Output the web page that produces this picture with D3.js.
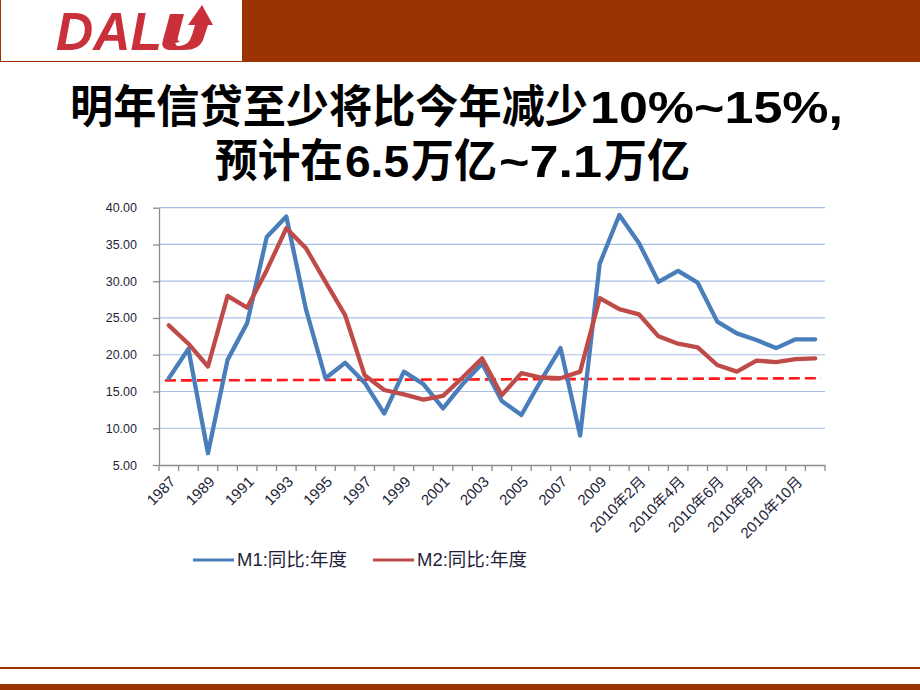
<!DOCTYPE html>
<html>
<head>
<meta charset="utf-8">
<script src="https://cdn.jsdelivr.net/npm/d3@7"></script>
<style>
  html, body { margin: 0; padding: 0; background: #ffffff; }
  svg { display: block; }
</style>
</head>
<body>
<svg id="chart" width="920" height="690"></svg>
<script>
// ---------------- data ----------------
const categories = [
  "1987","1988","1989","1990","1991","1992","1993","1994","1995","1996",
  "1997","1998","1999","2000","2001","2002","2003","2004","2005","2006",
  "2007","2008","2009",
  "2010年1月","2010年2月","2010年3月","2010年4月","2010年5月","2010年6月",
  "2010年7月","2010年8月","2010年9月","2010年10月","2010年11月"
];
const m1Values = [
  16.8, 20.8, 6.6, 19.3, 24.3, 36.0, 38.8, 26.2, 16.8, 18.9,
  16.2, 12.0, 17.7, 16.0, 12.7, 16.0, 18.8, 13.7, 11.8, 16.5,
  20.9, 9.0, 32.4,
  39.0, 35.2, 29.9, 31.4, 29.8, 24.5, 22.9, 22.0, 20.9, 22.1, 22.1
];
const m2Values = [
  24.0, 21.5, 18.4, 28.0, 26.4, 31.5, 37.2, 34.5, 29.9, 25.4,
  17.2, 15.2, 14.6, 13.9, 14.4, 16.9, 19.5, 14.5, 17.5, 16.9,
  16.8, 17.7, 27.7,
  26.2, 25.5, 22.5, 21.5, 21.0, 18.6, 17.7, 19.2, 19.0, 19.4, 19.5
];
const seriesNames = ["M1:同比:年度", "M2:同比:年度"];
const yTicks = [5, 10, 15, 20, 25, 30, 35, 40];
const refLineIndex = [-0.2, 33.3];
const refLineValues = [16.5, 16.8];
// title segments: text, font kind, left, right
const titleLine1 = [["明年信贷至少将比今年减少", "cjk", 70, 588], ["10%~15%,", "lat", 590, 843]];
const titleLine2 = [["预计在", "cjk", 215, 343], ["6.5", "lat", 345, 409], ["万亿", "cjk", 411, 497],
                    ["~7.1", "lat", 499, 602], ["万亿", "cjk", 604, 690]];

// ---------------- setup ----------------
const svg = d3.select("#chart");
const W = 920, H = 690;
const brown = "#9c3303";
const blue = "#4a7ebb", red = "#be4b48";
const fontLat = "'Liberation Sans', Arial, 'Noto Sans CJK SC', sans-serif";

// header band
svg.append("rect").attr("x", 0).attr("y", 0).attr("width", W).attr("height", 62).attr("fill", brown);
svg.append("rect").attr("x", 1).attr("y", 0).attr("width", 241).attr("height", 61).attr("fill", "#ffffff");

// logo
const logo = svg.append("g").attr("fill", "#c9303a");
logo.append("text")
  .attr("x", 56).attr("y", 50)
  .attr("font-family", fontLat).attr("font-weight", "bold").attr("font-style", "italic")
  .attr("font-size", 54)
  .attr("textLength", 106).attr("lengthAdjust", "spacingAndGlyphs")
  .text("DAL");
logo.append("path")
  .attr("d", "M170,14 L184,14 L178,37 Q176,43 184,42 Q190,41 192,35 L196,22 L209,22 L203,40 Q199,50 184,50 L170,50 Q160,49 163,40 Z");
logo.append("path")
  .attr("d", "M188,25 L202,5 L213,25 Z");
logo.append("path").attr("fill", "#ffffff")
  .attr("d", "M175,43 Q186,42 193,29 L190,40 Q186,46 177,46 Z");

// title
function drawTitleLine(parts, y) {
  parts.forEach(([s, kind, x0, x1]) => {
    svg.append("text")
      .attr("x", x0).attr("y", y)
      .attr("font-weight", "bold")
      .attr("fill", "#000")
      .attr("font-family", kind === "cjk" ? "'Noto Sans CJK SC', sans-serif" : fontLat)
      .attr("font-size", 45)
      .attr("textLength", x1 - x0).attr("lengthAdjust", "spacingAndGlyphs")
      .text(s);
  });
}
drawTitleLine(titleLine1, 123);
drawTitleLine(titleLine2, 177);

// ---------------- chart ----------------
const plot = { left: 159, right: 825, top: 207.7, bottom: 465 };
const x = d3.scaleBand().domain(categories).range([plot.left, plot.right]).paddingInner(0).paddingOuter(0);
const cx = d => x(d) + x.bandwidth() / 2;
const xi = d3.scaleLinear().domain([0, categories.length - 1])
  .range([cx(categories[0]), cx(categories[categories.length - 1])]);
const y = d3.scaleLinear().domain([5, 40]).range([plot.bottom, plot.top]);

// gridlines
svg.append("g").selectAll("line").data(yTicks.filter(v => v !== 5)).join("line")
  .attr("x1", plot.left).attr("x2", plot.right)
  .attr("y1", d => y(d)).attr("y2", d => y(d))
  .attr("stroke", "#a9c0e6").attr("stroke-width", 1.2);

// y axis
const yAxis = svg.append("g").attr("transform", `translate(${plot.left},0)`)
  .call(d3.axisLeft(y).tickValues(yTicks).tickSize(6).tickSizeOuter(0).tickPadding(16)
    .tickFormat(d3.format(".2f")));
yAxis.select(".domain").attr("stroke", "#8c8c8c").attr("stroke-width", 1.3);
yAxis.selectAll(".tick line").attr("stroke", "#8c8c8c").attr("stroke-width", 1.3);
yAxis.selectAll(".tick text").attr("font-family", fontLat).attr("font-size", 12.5).attr("fill", "#1f1f3a");

// x axis
const xAxis = svg.append("g").attr("transform", `translate(0,${plot.bottom})`)
  .call(d3.axisBottom(x).tickValues([]).tickSizeOuter(0));
xAxis.select(".domain").attr("stroke", "#8c8c8c").attr("stroke-width", 1.3);
const boundaries = categories.map(c => x(c)).concat([x(categories[categories.length - 1]) + x.bandwidth()]);
xAxis.append("g").selectAll("line").data(boundaries).join("line")
  .attr("x1", d => d).attr("x2", d => d).attr("y1", 0).attr("y2", 6)
  .attr("stroke", "#8c8c8c").attr("stroke-width", 1.3);
xAxis.append("g").selectAll("text").data(categories.filter((c, i) => i % 2 === 0)).join("text")
  .attr("transform", d => `translate(${cx(d) + 4},${14}) rotate(-45)`)
  .attr("text-anchor", "end")
  .attr("dy", "0.35em")
  .attr("font-family", fontLat).attr("font-size", 15).attr("fill", "#1f1f3a")
  .text(d => d);

// reference dashed line
const refData = refLineIndex.map((v, i) => [xi(v), y(refLineValues[i])]);
svg.append("path")
  .attr("d", d3.line()(refData))
  .attr("fill", "none").attr("stroke", "#ff1a1a").attr("stroke-width", 2.6)
  .attr("stroke-dasharray", "11,5");

// series lines
const line = d3.line().x((d, i) => cx(categories[i])).y(d => y(d));
svg.append("path").datum(m1Values).attr("d", line)
  .attr("fill", "none").attr("stroke", blue).attr("stroke-width", 4.3)
  .attr("stroke-linejoin", "round").attr("stroke-linecap", "round");
svg.append("path").datum(m2Values).attr("d", line)
  .attr("fill", "none").attr("stroke", red).attr("stroke-width", 4.3)
  .attr("stroke-linejoin", "round").attr("stroke-linecap", "round");

// legend
const legendItems = [
  { name: seriesNames[0], color: blue, x: 193 },
  { name: seriesNames[1], color: red, x: 373 }
];
const lg = svg.append("g").attr("transform", "translate(0,560)");
legendItems.forEach(it => {
  lg.append("line").attr("x1", it.x).attr("x2", it.x + 41).attr("y1", 0).attr("y2", 0)
    .attr("stroke", it.color).attr("stroke-width", 3);
  lg.append("text").attr("x", it.x + 44).attr("y", 0).attr("dy", "0.35em")
    .attr("font-family", "'Liberation Sans', 'Noto Sans CJK SC', sans-serif")
    .attr("font-size", 18.5).attr("fill", "#1f1f3a")
    .text(it.name);
});

// bottom decorations
svg.append("rect").attr("x", 0).attr("y", 667).attr("width", W).attr("height", 2).attr("fill", brown);
svg.append("rect").attr("x", 0).attr("y", 684).attr("width", W).attr("height", 6).attr("fill", brown);
</script>
</body>
</html>
